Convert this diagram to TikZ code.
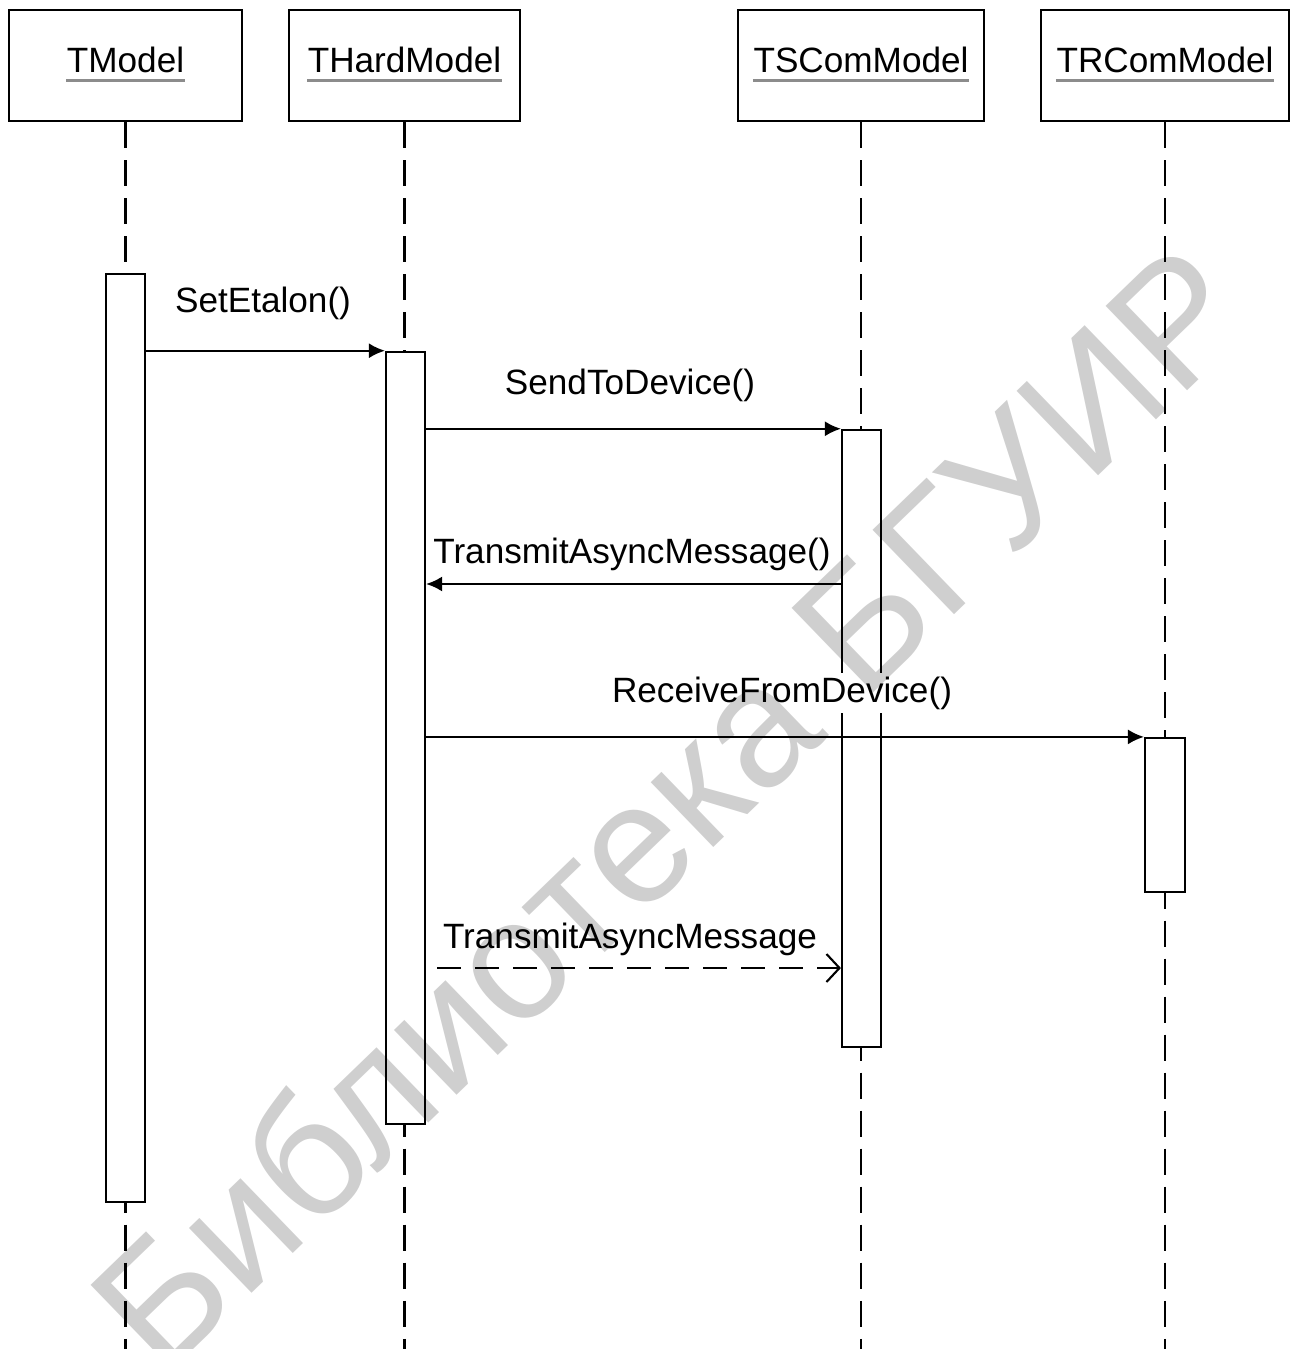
\documentclass[tikz,border=0pt]{standalone}
\usepackage{fontspec}
\setmainfont{Liberation Sans}
\usetikzlibrary{arrows.meta}

\begin{document}
\begin{tikzpicture}[x=0.01cm,y=-0.01cm,
  every node/.style={inner sep=0pt, font=\fontsize{10}{12}\selectfont},
  hdr/.style={draw, line width=0.6pt, minimum height=1.11cm, minimum width=#1},
  act/.style={draw, fill=white, line width=0.6pt, minimum width=0.39cm, minimum height=#1},
  life/.style={line width=0.6pt, dash pattern=on 0.26cm off 0.12cm},
  uline/.style={draw=black!45, line width=0.8pt},
  call/.style={line width=0.6pt, -{Latex[length=0.16cm,width=0.15cm]}},
  async/.style={line width=0.6pt, dash pattern=on 0.24cm off 0.14cm, -{Straight Barb[length=0.13cm,width=0.28cm]}},
  msg/.style={anchor=base, fill=white, inner sep=1pt}]
\useasboundingbox (0,0) rectangle (1291,1349);
\coordinate (bottom) at (0,1349);
% objects
\node[hdr=2.33cm] (tmodel) at (125.5,65.5) {};
\node (tmodelN) at (125.5,60) {TModel};
\draw[uline] ([yshift=-2.2pt]tmodelN.base west) -- ([yshift=-2.2pt]tmodelN.base east);
\node[hdr=2.31cm] (thard) at (404.5,65.5) {};
\node (thardN) at (404.5,60) {THardModel};
\draw[uline] ([yshift=-2.2pt]thardN.base west) -- ([yshift=-2.2pt]thardN.base east);
\node[hdr=2.46cm] (tscom) at (861,65.5) {};
\node (tscomN) at (861,60) {TSComModel};
\draw[uline] ([yshift=-2.2pt]tscomN.base west) -- ([yshift=-2.2pt]tscomN.base east);
\node[hdr=2.48cm] (trcom) at (1165,65.5) {};
\node (trcomN) at (1165,60) {TRComModel};
\draw[uline] ([yshift=-2.2pt]trcomN.base west) -- ([yshift=-2.2pt]trcomN.base east);
% lifelines
\draw[life] (tmodel.south) -- (tmodel.south |- bottom);
\draw[life] (thard.south) -- (thard.south |- bottom);
\draw[life] (tscom.south) -- (tscom.south |- bottom);
\draw[life] (trcom.south) -- (trcom.south |- bottom);
% activations
\node[act=9.28cm] (tmodelA) at (125.5,738) {};
\node[act=7.72cm] (thardA) at (405.5,738) {};
\node[act=6.17cm] (tscomA) at (861.5,738.5) {};
\node[act=1.54cm, minimum width=0.40cm] (trcomA) at (1165,815) {};
% messages
\draw[call] (tmodelA.east |- thardA.north) -- (thardA.north west);
\node[msg] (setN) at (263,313) {SetEtalon()};
\draw[call] (thardA.east |- tscomA.north) -- (tscomA.north west);
\node[msg] (sendN) at (630,395) {SendToDevice()};
\coordinate (yTr) at (0,584);
\draw[call] (tscomA.west |- yTr) -- (thardA.east |- yTr);
\node[msg] (transN) at (632,563) {TransmitAsyncMessage()};
\draw[call] (thardA.east |- trcomA.north) -- (trcomA.north west);
\node[msg] (recvN) at (782,702) {ReceiveFromDevice()};
\coordinate (asyncS) at (437,968);
\draw[async] (asyncS) -- (tscomA.west |- asyncS);
\node[msg] (asyncN) at (630,948) {TransmitAsyncMessage};
% watermark
\begin{scope}[blend mode=multiply]
\node[text=black!19, rotate=44, font=\fontsize{48.5}{58}\selectfont] (wmark) at (668,806) {Библиотека БГУИР};
\end{scope}
\end{tikzpicture}
\end{document}
